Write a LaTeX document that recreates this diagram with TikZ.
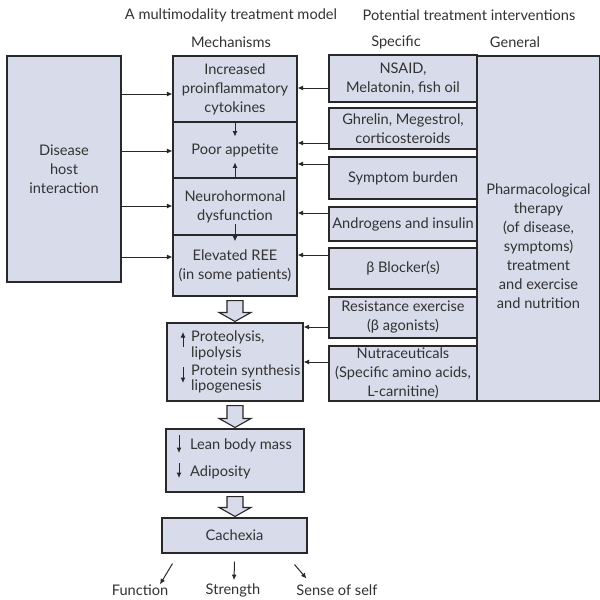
\documentclass[tikz,border=0pt]{standalone}
\usepackage{fontspec}
\setmainfont{Lato}
\usetikzlibrary{arrows.meta,calc}
\definecolor{boxfill}{RGB}{216,220,234}
\definecolor{linec}{RGB}{40,40,40}
\definecolor{textc}{RGB}{50,50,50}
\tikzset{
  box/.style={draw=linec, fill=boxfill, line width=1.1pt, text=textc,
    align=center, inner sep=0pt, font=\fontsize{14.6}{19}\selectfont},
  txt/.style={text=textc, align=center, inner sep=0pt, font=\fontsize{14.6}{19}\selectfont},
  ltxt/.style={text=textc, align=left, inner sep=0pt, anchor=west, font=\fontsize{14.6}{15.5}\selectfont},
  arr/.style={-{Latex[length=5.5pt,width=5pt]}, line width=1pt, draw=linec},
  fat/.style={draw=linec, fill=boxfill, line width=1.1pt, line join=miter}
}
% hollow downward arrow between two stacked boxes
\newcommand{\fatarrow}[2]{%
  \draw[fat] let \p1=(#1.south), \p2=(#2.north) in
    (\x1-8pt,\y1-4pt) -- (\x1+8pt,\y1-4pt) -- (\x1+8pt,\y2+10pt) --
    (\x1+16pt,\y2+10pt) -- (\x1,\y2+1pt) -- (\x1-16pt,\y2+10pt) --
    (\x1-8pt,\y2+10pt) -- cycle;}
\begin{document}
\begin{tikzpicture}[x=1pt,y=-1pt]
\useasboundingbox (0,0) rectangle (600,600);
\fill[white] (0,0) rectangle (600,600);

% headings
\node[txt] (t1) at (231,15) {A multimodality treatment model};
\node[txt] (t2) at (469,15) {Potential treatment interventions};
\node[txt] (h1) at (231,42) {Mechanisms};
\node[txt] (h2) at (396,42) {Specific};
\node[txt] (h3) at (515,42) {General};

% disease box
\node[box, minimum width=114, minimum height=226] (disease) at (64,169) {Disease\\host\\interaction};

% mechanisms column
\node[box, minimum width=124, minimum height=66] (cyto) at (235,89) {Increased\\proinflammatory\\cytokines};
\node[box, minimum width=124, minimum height=56] (appetite) at (235,150) {Poor appetite};
\node[box, minimum width=124, minimum height=57] (neuro) at (235,206.5) {Neurohormonal\\dysfunction};
\node[box, minimum width=124, minimum height=61] (ree) at (235,265.5) {Elevated REE\\(in some patients)};

% general interventions
\node[box, minimum width=123, minimum height=345] (general) at (538.5,228.5) {};
\node[txt] (gentext) at (538.5,246) {Pharmacological\\therapy\\(of disease,\\symptoms)\\treatment\\and exercise\\and nutrition};

% specific interventions
\node[box, minimum width=148, minimum height=47] (nsaid) at (403,78.5) {NSAID,\\Melatonin, fish oil};
\node[box, minimum width=148, minimum height=41] (ghrelin) at (403,128.5) {Ghrelin, Megestrol,\\corticosteroids};
\node[box, minimum width=148, minimum height=42] (symptom) at (403,178) {Symptom burden};
\node[box, minimum width=148, minimum height=34] (andro) at (403,224) {Androgens and insulin};
\node[box, minimum width=148, minimum height=41] (beta) at (403,268.5) {β Blocker(s)};
\node[box, minimum width=148, minimum height=41] (resist) at (403,317.5) {Resistance exercise\\(β agonists)};
\node[box, minimum width=148, minimum height=55] (nutra) at (403,373.5) {Nutraceuticals\\(Specific amino acids,\\L-carnitine)};

% metabolic consequences
\node[box, minimum width=136, minimum height=78] (prot) at (235,362) {};
\node[ltxt] (prot1) at (191,345.5) {Proteolysis,\\lipolysis};
\node[ltxt] (prot2) at (191,379) {Protein synthesis\\lipogenesis};
\node[box, minimum width=138, minimum height=63] (lean) at (235,460.5) {};
\node[ltxt] (lean1) at (190,445) {Lean body mass};
\node[ltxt] (lean2) at (190,472) {Adiposity};
\node[box, minimum width=145, minimum height=35] (cachexia) at (234.5,535.5) {Cachexia};

% outcomes
\node[txt] (func) at (140,590) {Function};
\node[txt] (strength) at (233,590) {Strength};
\node[txt] (self) at (337,590) {Sense of self};

% disease to mechanisms
\draw[arr] (disease.east |- 0,94) -- (cyto.west |- 0,94);
\draw[arr] (disease.east |- 0,151) -- (appetite.west |- 0,151);
\draw[arr] (disease.east |- 0,206) -- (neuro.west |- 0,206);
\draw[arr] (disease.east |- 0,257) -- (ree.west |- 0,257);

% links inside the mechanisms column
\draw[arr] (cyto.south) -- ($(cyto.south)+(0,14)$);
\draw[arr] (neuro.north) -- ($(neuro.north)+(0,-15)$);
\draw[arr] ($(ree.north)+(0,-10)$) -- ($(ree.north)+(0,7)$);

% specific interventions to their targets
\draw[arr] (nsaid.west |- 0,88) -- (cyto.east |- 0,88);
\draw[arr] (ghrelin.west |- 0,143) -- (appetite.east |- 0,143);
\draw[arr] (symptom.west |- 0,164) -- (appetite.east |- 0,164);
\draw[arr] (andro.west |- 0,213) -- (neuro.east |- 0,213);
\draw[arr] (beta.west |- 0,255) -- (ree.east |- 0,255);
\draw[arr] (resist.west |- 0,327) -- (prot.east |- 0,327);
\draw[arr] (nutra.west |- 0,362) -- (prot.east |- 0,362);

% up/down markers
\draw[arr] (183,347) -- (183,332);
\draw[arr] (183,367) -- (183,383);
\draw[arr] (179,435) -- (179,453);
\draw[arr] (179,463) -- (179,478);

% hollow flow arrows
\fatarrow{ree}{prot}
\fatarrow{prot}{lean}
\fatarrow{lean}{cachexia}

% outcomes
\draw[arr] ($(cachexia.south)+(-62,10)$) -- (func.north -| 160,0) ;
\draw[arr] ($(cachexia.south)+(0,8)$) -- ($(strength.north)+(1,-3)$);
\draw[arr] ($(cachexia.south)+(60,11)$) -- ($(cachexia.south)+(72,25)$);
\end{tikzpicture}
\end{document}
